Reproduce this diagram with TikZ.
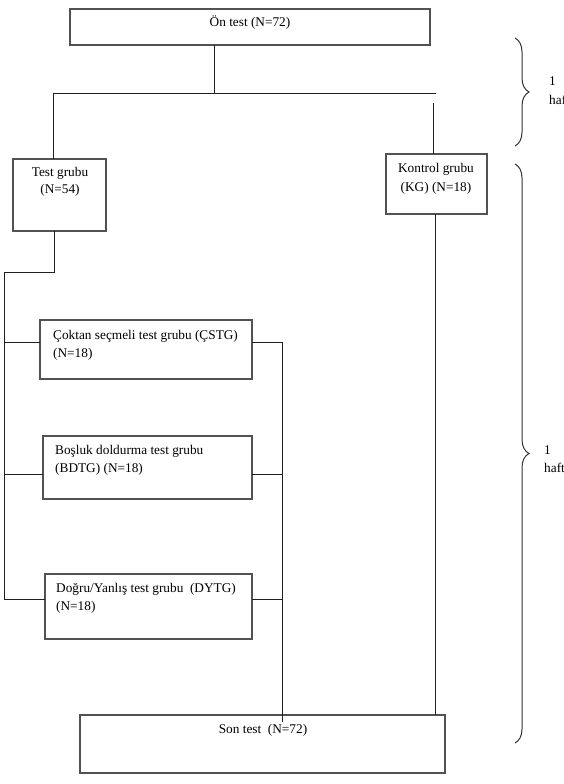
\documentclass[tikz,border=0pt]{standalone}
\usepackage{fontspec}
\setmainfont{Liberation Serif}
\usetikzlibrary{decorations.pathreplacing}
\begin{document}
\begin{tikzpicture}[x=1pt,y=-1pt,
  box/.style={draw=black!68, line width=1.1pt, inner sep=0pt, outer sep=0pt, rectangle},
  conn/.style={draw=black!88, line width=0.9pt},
  lbl/.style={inner sep=0pt, anchor=base, font=\fontsize{13.3}{17}\selectfont},
  lbll/.style={lbl, anchor=base west},
  brc/.style={draw=black!80, line width=1pt, decorate, decoration={brace, amplitude=14pt}}]
\path[use as bounding box] (0,0) rectangle (564,784);
\clip (0,0) rectangle (564,784);
\fill[white] (0,0) rectangle (564,784);

% boxes
\node[box, minimum width=360pt, minimum height=36pt] (on) at (250,27) {};
\node[box, minimum width=93pt, minimum height=72pt] (test) at (59.5,195) {};
\node[box, minimum width=101pt, minimum height=60pt] (kontrol) at (436.5,184) {};
\node[box, minimum width=212pt, minimum height=59pt] (cstg) at (146,349.5) {};
\node[box, minimum width=209pt, minimum height=63pt] (bdtg) at (147.5,467.5) {};
\node[box, minimum width=207pt, minimum height=65pt] (dytg) at (148.5,606.5) {};
\node[box, minimum width=365pt, minimum height=58pt] (son) at (262.5,744) {};

% texts
\node[lbl] (ont) at (250,27) {Ön test (N=72)};
\node[lbl] (testa) at (60,176) {Test grubu};
\node[lbl] (testb) at (60,193) {(N=54)};
\node[lbl] (kona) at (436,172) {Kontrol grubu};
\node[lbl] (konb) at (436,191) {(KG) (N=18)};
\node[lbll] (cstga) at (53,339) {Çoktan seçmeli test grubu (ÇSTG)};
\node[lbll] (cstgb) at (53,357) {(N=18)};
\node[lbll] (bdtga) at (55,454) {Boşluk doldurma test grubu};
\node[lbll] (bdtgb) at (55,472) {(BDTG) (N=18)};
\node[lbll] (dytga) at (56,592) {Doğru/Yanlış test grubu~ (DYTG)};
\node[lbll] (dytgb) at (56,610) {(N=18)};
\node[lbl] (sont) at (263,733) {Son test~ (N=72)};

% top connectors
\coordinate (j1) at (214,93);
\coordinate (hl) at (53,93);
\coordinate (hr) at (436,93);
\draw[conn] (on.south -| j1) -- (j1);
\draw[conn] (hl) -- (hr);
\draw[conn] (hl) -- (hl |- test.north);
\coordinate (kt) at (433,103);
\draw[conn] (kt) -- (kt |- kontrol.north);
\coordinate (kb) at (435,214);
\draw[conn] (kontrol.south -| kb) -- (kb |- son.north);

% left branch
\coordinate (tb) at (54,272);
\coordinate (lt) at (4,272);
\coordinate (ca) at (4,342);
\coordinate (cb) at (4,474);
\coordinate (cc) at (4,599);
\draw[conn] (test.south -| tb) -- (tb) -- (lt) -- (cc);
\draw[conn] (ca) -- (ca -| cstg.west);
\draw[conn] (cb) -- (cb -| bdtg.west);
\draw[conn] (cc) -- (cc -| dytg.west);

% right branch
\coordinate (ra) at (282,342);
\coordinate (rb) at (282,474);
\coordinate (rc) at (282,599);
\coordinate (rd) at (282,722);
\draw[conn] (ra -| cstg.east) -- (ra);
\draw[conn] (rb -| bdtg.east) -- (rb);
\draw[conn] (rc -| dytg.east) -- (rc);
\draw[conn] (ra) -- (rd);

% braces
\coordinate (b1t) at (515,38);
\coordinate (b1b) at (515,146);
\coordinate (b2t) at (515,164);
\coordinate (b2b) at (515,743);
\draw[brc] (b1t) -- (b1b);
\draw[brc] (b2t) -- (b2b);
\node[lbll] (w1a) at (549,85) {1};
\node[lbll] (w1b) at (549,104) {hafta};
\node[lbll] (w2a) at (544,454) {1};
\node[lbll] (w2b) at (544,472) {hafta};
\end{tikzpicture}
\end{document}
